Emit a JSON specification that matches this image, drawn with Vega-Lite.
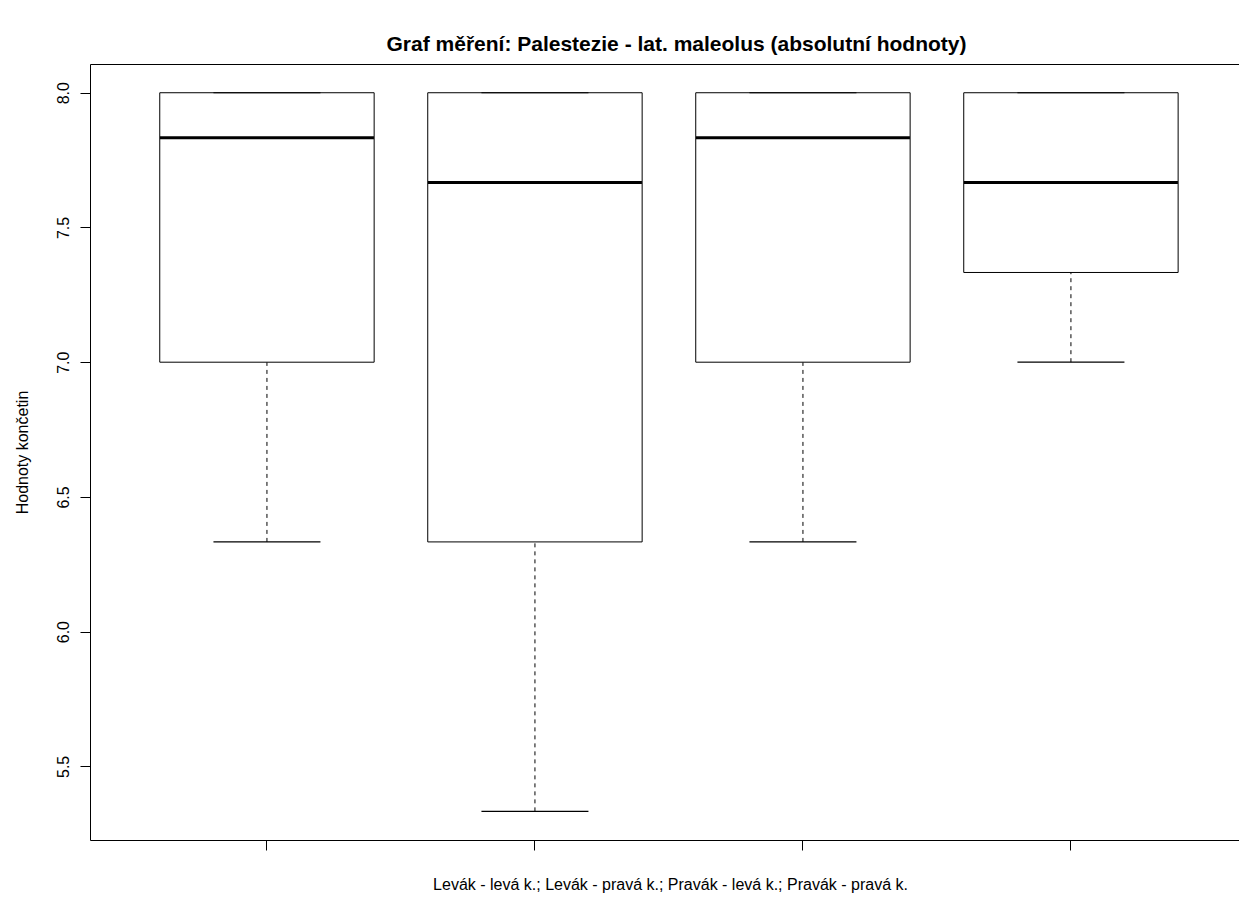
{
  "$schema": "https://vega.github.io/schema/vega-lite/v6.json",
  "autosize": {"type": "none"},
  "padding": {"left": 90, "top": 64, "right": 0, "bottom": 81},
  "width": 1149,
  "height": 776,
  "background": "white",
  "title": {
    "text": "Graf měření: Palestezie - lat. maleolus (absolutní hodnoty)",
    "font": "Liberation Sans",
    "fontSize": 21,
    "fontWeight": "bold",
    "color": "black",
    "anchor": "middle",
    "frame": "group",
    "baseline": "middle",
    "offset": -2,
    "dx": 12
  },
  "config": {
    "font": "Liberation Sans",
    "view": {"stroke": null},
    "axis": {
      "domainColor": "black",
      "domainWidth": 1,
      "tickColor": "black",
      "tickWidth": 1,
      "tickSize": 10,
      "grid": false,
      "labelFont": "Liberation Sans",
      "labelFontSize": 16,
      "labelColor": "black",
      "titleFont": "Liberation Sans",
      "titleFontSize": 16,
      "titleFontWeight": "normal",
      "titleColor": "black"
    }
  },
  "data": {
    "values": [
      {"skupina": "Levák - levá k.", "dolni": 6.333, "q1": 7.0, "median": 7.833, "q3": 8.0, "horni": 8.0},
      {"skupina": "Levák - pravá k.", "dolni": 5.333, "q1": 6.333, "median": 7.667, "q3": 8.0, "horni": 8.0},
      {"skupina": "Pravák - levá k.", "dolni": 6.333, "q1": 7.0, "median": 7.833, "q3": 8.0, "horni": 8.0},
      {"skupina": "Pravák - pravá k.", "dolni": 7.0, "q1": 7.333, "median": 7.667, "q3": 8.0, "horni": 8.0}
    ]
  },
  "resolve": {"axis": {"x": "independent"}},
  "layer": [
    {
      "mark": {"type": "rule", "color": "black", "strokeWidth": 1, "strokeDash": [4, 4]},
      "encoding": {
        "x": {
          "field": "skupina",
          "type": "nominal",
          "sort": null,
          "scale": {"paddingInner": 0.2, "paddingOuter": 0.2437, "align": 0.534},
          "axis": {
            "orient": "bottom",
            "labels": false,
            "title": "Levák - levá k.; Levák - pravá k.; Pravák - levá k.; Pravák - pravá k.",
            "titleX": 580,
            "titleY": 44,
            "titleAnchor": null,
            "titleAlign": "center",
            "titleBaseline": "middle"
          }
        },
        "y": {
          "field": "dolni",
          "type": "quantitative",
          "scale": {"domain": [5.2267, 8.1067], "nice": false, "zero": false},
          "axis": {
            "values": [5.5, 6.0, 6.5, 7.0, 7.5, 8.0],
            "format": ".1f",
            "labelAngle": 270,
            "labelAlign": "center",
            "labelBaseline": "alphabetic",
            "labelPadding": 12,
            "title": "Hodnoty končetin",
            "titleX": -63,
            "titleY": 388,
            "titleAngle": 270,
            "titleAlign": "center",
            "titleBaseline": "alphabetic"
          }
        },
        "y2": {"field": "q1"}
      }
    },
    {
      "mark": {"type": "rule", "color": "black", "strokeWidth": 1, "strokeDash": [4, 4]},
      "encoding": {
        "x": {"field": "skupina", "type": "nominal", "sort": null, "axis": null},
        "y": {"field": "q3", "type": "quantitative"},
        "y2": {"field": "horni"}
      }
    },
    {
      "mark": {"type": "bar", "fill": "white", "stroke": "black", "strokeWidth": 1, "opacity": 1},
      "encoding": {
        "x": {"field": "skupina", "type": "nominal", "sort": null, "axis": null},
        "y": {"field": "q1", "type": "quantitative"},
        "y2": {"field": "q3"}
      }
    },
    {
      "mark": {"type": "tick", "color": "black", "opacity": 1, "size": 107, "thickness": 1.2, "orient": "horizontal"},
      "encoding": {
        "x": {"field": "skupina", "type": "nominal", "sort": null, "axis": null},
        "y": {"field": "dolni", "type": "quantitative"}
      }
    },
    {
      "mark": {"type": "tick", "color": "black", "opacity": 1, "size": 107, "thickness": 1.2, "orient": "horizontal"},
      "encoding": {
        "x": {"field": "skupina", "type": "nominal", "sort": null, "axis": null},
        "y": {"field": "horni", "type": "quantitative"}
      }
    },
    {
      "mark": {"type": "tick", "color": "black", "opacity": 1, "size": 214, "thickness": 3, "orient": "horizontal"},
      "encoding": {
        "x": {
          "field": "skupina",
          "type": "nominal",
          "sort": null,
          "axis": {"orient": "top", "labels": false, "ticks": false, "title": null}
        },
        "y": {"field": "median", "type": "quantitative"}
      }
    }
  ]
}
